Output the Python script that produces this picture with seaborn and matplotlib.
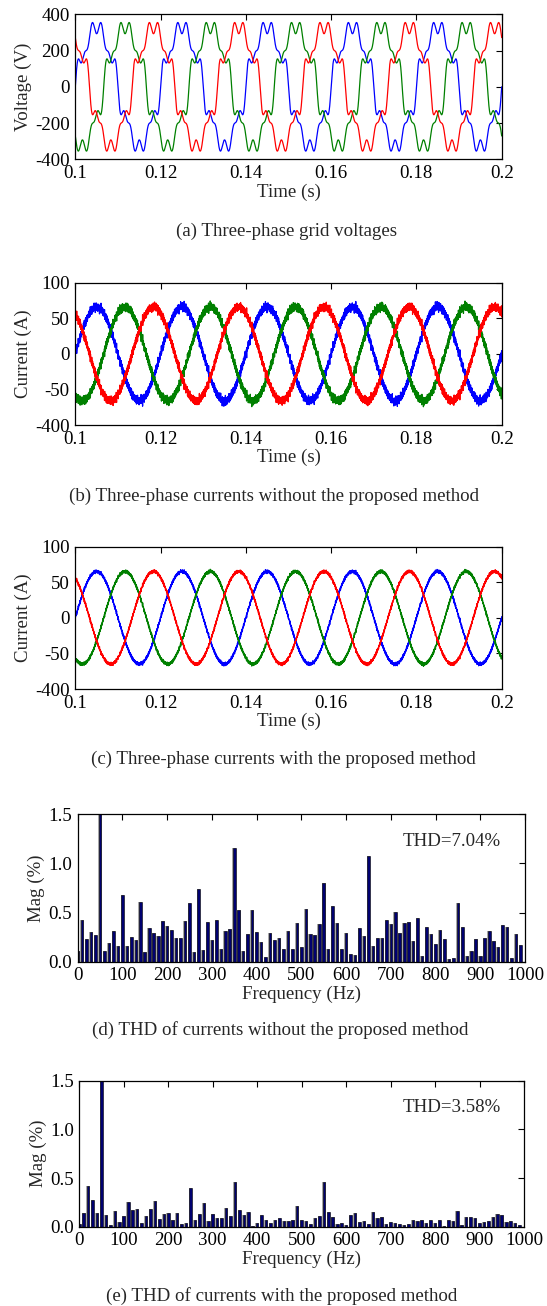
import numpy as np
import pandas as pd
import matplotlib
matplotlib.use("Agg")
import matplotlib.pyplot as plt
import seaborn as sns

# ---------------- data ----------------
time_ticks = [0.1, 0.12, 0.14, 0.16, 0.18, 0.2]
time_tick_labels = ["0.1", "0.12", "0.14", "0.16", "0.18", "0.2"]
volt_ticks = [400, 200, 0, -200, -400]
volt_tick_labels = ["400", "200", "0", "-200", "-400"]
curr_ticks = [100, 50, 0, -50, -100]
curr_tick_labels = ["100", "50", "0", "-50", "-400"]
freq_ticks = [0, 100, 200, 300, 400, 500, 600, 700, 800, 900, 1000]
mag_ticks = [0.0, 0.5, 1.0, 1.5]
mag_tick_labels = ["0.0", "0.5", "1.0", "1.5"]

grid_freq = 50.0
phase_names = ["blue", "green", "red"]
phase_shift_deg = [0, -120, 120]
phase_colors = ["#0000ff", "#008000", "#ff0000"]

# grid voltage harmonic content (order, peak volts)
volt_harm_order = [1, 5, 7, 11, 13]
volt_harm_amp = [325.0, 27.6, 37.8, 28.1, 6.2]

# current fundamental peak and switching ripple
curr_amp_b = 66.0
curr_amp_c = 65.0
ripple_freq = [4870, 6310, 7130, 9910, 12370, 15530, 18110]
ripple_amp_b = [1.6, 1.2, 2.0, 1.8, 1.5, 1.3, 1.0]
ripple_amp_c = [0.6, 0.4, 0.8, 0.7, 0.5, 0.5, 0.3]

freq = list(range(0, 1000, 10))
mag_without = [0.11, 0.42, 0.23, 0.30, 0.27, 100.0, 0.11, 0.19, 0.31, 0.16,
               0.68, 0.16, 0.25, 0.22, 0.61, 0.095, 0.34, 0.29, 0.26, 0.41,
               0.36, 0.32, 0.24, 0.24, 0.41, 0.60, 0.10, 0.74, 0.12, 0.40,
               0.22, 0.42, 0.13, 0.31, 0.33, 1.16, 0.53, 0.11, 0.28, 0.53,
               0.30, 0.20, 0.05, 0.29, 0.22, 0.24, 0.13, 0.31, 0.13, 0.39,
               0.15, 0.54, 0.28, 0.27, 0.38, 0.80, 0.13, 0.57, 0.39, 0.13,
               0.29, 0.08, 0.07, 0.34, 0.26, 1.08, 0.16, 0.24, 0.24, 0.42,
               0.38, 0.51, 0.29, 0.39, 0.40, 0.21, 0.44, 0.06, 0.35, 0.28,
               0.18, 0.32, 0.23, 0.03, 0.04, 0.60, 0.35, 0.06, 0.105, 0.23,
               0.06, 0.24, 0.31, 0.21, 0.15, 0.37, 0.35, 0.04, 0.28, 0.17]
mag_with = [0.025, 0.14, 0.42, 0.27, 0.14, 100.0, 0.12, 0.02, 0.16, 0.05,
            0.11, 0.25, 0.17, 0.18, 0.04, 0.11, 0.18, 0.26, 0.08, 0.13,
            0.14, 0.07, 0.14, 0.03, 0.04, 0.40, 0.07, 0.13, 0.24, 0.06,
            0.13, 0.09, 0.09, 0.19, 0.11, 0.46, 0.17, 0.12, 0.15, 0.01,
            0.04, 0.12, 0.07, 0.04, 0.07, 0.09, 0.06, 0.06, 0.07, 0.21,
            0.07, 0.06, 0.03, 0.09, 0.11, 0.46, 0.15, 0.10, 0.03, 0.04,
            0.02, 0.12, 0.14, 0.045, 0.06, 0.03, 0.15, 0.09, 0.10, 0.03,
            0.05, 0.035, 0.025, 0.02, 0.03, 0.065, 0.06, 0.07, 0.04, 0.07,
            0.035, 0.07, 0.01, 0.065, 0.06, 0.16, 0.02, 0.10, 0.10, 0.09,
            0.035, 0.05, 0.055, 0.095, 0.13, 0.125, 0.05, 0.06, 0.04, 0.02]
thd_without = "THD=7.04%"
thd_with = "THD=3.58%"

captions = ["(a) Three-phase grid voltages",
            "(b) Three-phase currents without the proposed method",
            "(c) Three-phase currents with the proposed method",
            "(d) THD of currents without the proposed method",
            "(e) THD of currents with the proposed method"]

# ---------------- style ----------------
sns.set_theme(style="white")
plt.rcParams["font.family"] = ["Liberation Serif", "DejaVu Serif"]
plt.rcParams["axes.linewidth"] = 0.9
FS = 13.6

fig = plt.figure(figsize=(5.47, 13.06), dpi=100)
W, H = 547.0, 1306.0


def axes_px(left, right, top, bottom):
    return fig.add_axes([left / W, (H - bottom) / H, (right - left) / W, (bottom - top) / H])


def style_ax(ax):
    ax.tick_params(direction="in", top=True, right=True, length=4, width=0.8,
                   labelsize=FS, pad=4, colors="black")
    for s in ax.spines.values():
        s.set_color("black")
        s.set_linewidth(0.9)


t = np.linspace(0.1, 0.2, 20001)


def volt(theta):
    return sum(a * np.sin(h * theta) for h, a in zip(volt_harm_order, volt_harm_amp))


rows = []
for name, sh in zip(phase_names, phase_shift_deg):
    th = 2 * np.pi * grid_freq * t + np.deg2rad(sh)
    rows.append(pd.DataFrame({"t": t, "v": volt(th), "phase": name}))
df_v = pd.concat(rows)


def currents(amp, ramp):
    rr = []
    for k, (name, sh) in enumerate(zip(phase_names, phase_shift_deg)):
        th = 2 * np.pi * grid_freq * t + np.deg2rad(sh)
        y = amp * np.sin(th)
        for j, (f, a) in enumerate(zip(ripple_freq, ramp)):
            y = y + a * np.sin(2 * np.pi * f * t + 1.7 * k + 0.9 * j)
        rr.append(pd.DataFrame({"t": t, "v": y, "phase": name}))
    return pd.concat(rr)


df_b = currents(curr_amp_b, ripple_amp_b)
df_c = currents(curr_amp_c, ripple_amp_c)
pal = dict(zip(phase_names, phase_colors))

panels = [
    (df_v, axes_px(75.3, 501.7, 14.3, 159.3), "Voltage (V)", volt_ticks, volt_tick_labels, (-400, 400)),
    (df_b, axes_px(75.3, 501.7, 282.7, 425.0), "Current (A)", curr_ticks, curr_tick_labels, (-100, 100)),
    (df_c, axes_px(75.3, 501.7, 546.5, 689.0), "Current (A)", curr_ticks, curr_tick_labels, (-100, 100)),
]
for d, ax, ylab, yt, ytl, ylim in panels:
    sns.lineplot(data=d, x="t", y="v", hue="phase", palette=pal, estimator=None,
                 errorbar=None, sort=False, linewidth=0.9, legend=False, ax=ax)
    ax.set_xlim(0.1, 0.2)
    ax.set_ylim(*ylim)
    ax.set_xticks(time_ticks)
    ax.set_xticklabels(time_tick_labels)
    ax.set_yticks(yt)
    ax.set_yticklabels(ytl)
    ax.set_xlabel("Time (s)", fontsize=FS, labelpad=1)
    ax.set_ylabel(ylab, fontsize=FS, labelpad=2)
    style_ax(ax)

bar_panels = [
    (mag_without, thd_without, axes_px(77.7, 525.0, 814.3, 961.7), 842),
    (mag_with, thd_with, axes_px(79.3, 524.0, 1080.7, 1226.7), 1107),
]
for mags, thd, ax, ty in bar_panels:
    sns.barplot(x=freq, y=mags, native_scale=True, color="#a8a8a8", width=0.82,
                edgecolor="none", linewidth=0, ax=ax, saturation=1)
    sns.barplot(x=freq, y=mags, native_scale=True, color="#000070", width=0.58,
                edgecolor="black", linewidth=0.4, ax=ax, saturation=1)
    ax.set_xlim(0, 1000)
    ax.set_ylim(0, 1.5)
    ax.set_xticks(freq_ticks)
    ax.set_xticklabels([str(v) for v in freq_ticks])
    ax.set_yticks(mag_ticks)
    ax.set_yticklabels(mag_tick_labels)
    ax.set_xlabel("Frequency (Hz)", fontsize=FS, labelpad=1)
    ax.set_ylabel("Mag (%)", fontsize=FS, labelpad=2)
    style_ax(ax)
    fig.text(452 / W, 1 - ty / H, thd, fontsize=FS, ha="center", va="center")

cap_pos = [(286, 231), (274, 496), (283, 759), (280, 1030), (282, 1296)]
for txt, (cx, cy) in zip(captions, cap_pos):
    fig.text(cx / W, 1 - cy / H, txt, fontsize=FS, ha="center", va="center")

fig.savefig("out.png", dpi=100)
